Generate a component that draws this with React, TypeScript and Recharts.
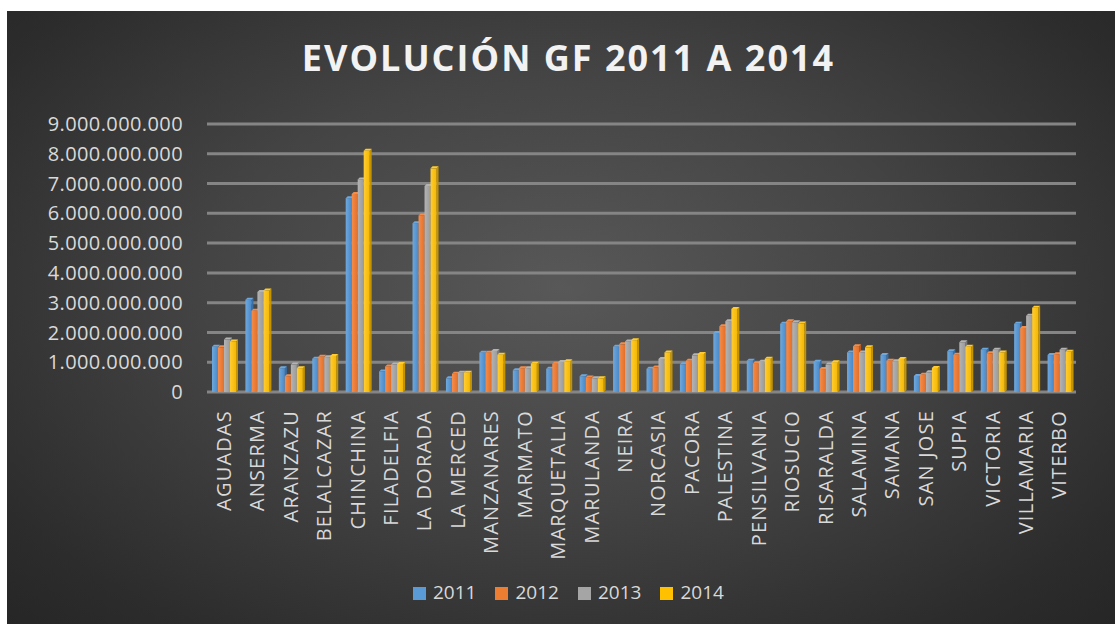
import React from 'react';
import { BarChart, Bar, XAxis, YAxis, CartesianGrid, Legend } from 'recharts';

const municipios = [
  'AGUADAS', 'ANSERMA', 'ARANZAZU', 'BELALCAZAR', 'CHINCHINA', 'FILADELFIA',
  'LA DORADA', 'LA MERCED', 'MANZANARES', 'MARMATO', 'MARQUETALIA', 'MARULANDA',
  'NEIRA', 'NORCASIA', 'PACORA', 'PALESTINA', 'PENSILVANIA', 'RIOSUCIO',
  'RISARALDA', 'SALAMINA', 'SAMANA', 'SAN JOSE', 'SUPIA', 'VICTORIA',
  'VILLAMARIA', 'VITERBO',
];

// miles de millones
const gf2011 = [1.52, 3.10, 0.80, 1.12, 6.51, 0.69, 5.67, 0.46, 1.32, 0.73, 0.78, 0.53, 1.52, 0.78, 0.93, 1.98, 1.05, 2.29, 1.02, 1.33, 1.24, 0.54, 1.37, 1.42, 2.29, 1.24];
const gf2012 = [1.50, 2.73, 0.53, 1.18, 6.65, 0.86, 5.93, 0.61, 1.32, 0.80, 0.95, 0.49, 1.60, 0.82, 1.05, 2.21, 0.96, 2.38, 0.77, 1.54, 1.05, 0.58, 1.25, 1.30, 2.15, 1.27];
const gf2013 = [1.76, 3.36, 0.92, 1.17, 7.14, 0.92, 6.92, 0.65, 1.38, 0.80, 1.01, 0.46, 1.70, 1.11, 1.23, 2.38, 1.02, 2.34, 0.92, 1.33, 1.03, 0.66, 1.67, 1.42, 2.56, 1.42];
const gf2014 = [1.70, 3.41, 0.80, 1.21, 8.10, 0.94, 7.51, 0.65, 1.25, 0.95, 1.03, 0.46, 1.74, 1.33, 1.28, 2.79, 1.12, 2.30, 1.00, 1.50, 1.11, 0.81, 1.52, 1.33, 2.83, 1.35];

const yTicks = [0, 1, 2, 3, 4, 5, 6, 7, 8, 9].map((v) => v * 1e9);

const data = municipios.map((name, i) => ({
  name,
  y2011: gf2011[i] * 1e9,
  y2012: gf2012[i] * 1e9,
  y2013: gf2013[i] * 1e9,
  y2014: gf2014[i] * 1e9,
}));

const fmt = (v: number) => String(Math.round(v)).replace(/\B(?=(\d{3})+(?!\d))/g, '.');

const makeShape = (id: string, light: string, base: string, dark: string) => (props: any) => {
  const { x, y, width, height } = props;
  if (!height || height <= 0) return <g />;
  const d = 2;
  return (
    <g>
      <defs>
        <linearGradient id={id} x1="0" y1="0" x2="1" y2="0">
          <stop offset="0%" stopColor={light} />
          <stop offset="100%" stopColor={base} />
        </linearGradient>
      </defs>
      <polygon points={`${x + width},${y} ${x + width + d},${y - d} ${x + width + d},${y + height - d} ${x + width},${y + height}`} fill={dark} />
      <polygon points={`${x},${y} ${x + d},${y - d} ${x + width + d},${y - d} ${x + width},${y}`} fill={light} />
      <rect x={x} y={y} width={width} height={height} fill={`url(#${id})`} />
    </g>
  );
};

const XTick = ({ x, y, payload }: any) => (
  <text
    x={x}
    y={y}
    transform={`rotate(-90, ${x}, ${y})`}
    textAnchor="end"
    dy="0.36em"
    fill="#d9d9d9"
    fontSize={20}
    letterSpacing={1.2}
    fontFamily="Open Sans"
  >
    {payload.value}
  </text>
);

const App = () => {
  return (
    <div
      style={{
        position: 'absolute',
        left: 7,
        top: 11,
        width: 1108,
        height: 613,
        background: 'radial-gradient(ellipse at 50% 45%, #585858 0%, #444444 45%, #2c2c2c 85%, #262626 100%)',
        fontFamily: 'Open Sans',
      }}
    >
      <BarChart
        width={1108}
        height={613}
        data={data}
        margin={{ top: 113, right: 39, left: 0, bottom: 15 }}
        barSize={6}
        barGap={0}
      >
        <CartesianGrid horizontal vertical={false} stroke="#858585" strokeWidth={3} />
        <XAxis
          dataKey="name"
          interval={0}
          height={187}
          tick={<XTick />}
          tickLine={false}
          axisLine={false}
          tickSize={0}
          tickMargin={18}
        />
        <YAxis
          width={200}
          domain={[0, 9e9]}
          ticks={yTicks}
          tickFormatter={fmt}
          tickLine={false}
          axisLine={false}
          tickSize={0}
          tickMargin={24}
          tick={{ fill: '#d9d9d9', fontSize: 20, fontFamily: 'Open Sans', letterSpacing: 0.4 }}
        />
        <Legend
          height={30}
          iconType="square"
          iconSize={13}
          align="left"
          wrapperStyle={{ left: 406, width: 360, fontSize: 19 }}
          formatter={(value: string) => (
            <span style={{ color: '#d9d9d9', fontSize: 19, marginLeft: 3, marginRight: 9 }}>{value}</span>
          )}
        />
        <Bar name="2011" dataKey="y2011" fill="#5b9bd5" isAnimationActive={false} shape={makeShape('g11', '#6fa8dc', '#4a89c8', '#3a6fa5')} />
        <Bar name="2012" dataKey="y2012" fill="#ed7d31" isAnimationActive={false} shape={makeShape('g12', '#f58d4a', '#e2702a', '#b85a1f')} />
        <Bar name="2013" dataKey="y2013" fill="#a5a5a5" isAnimationActive={false} shape={makeShape('g13', '#b4b4b4', '#9a9a9a', '#7a7a7a')} />
        <Bar name="2014" dataKey="y2014" fill="#ffc000" isAnimationActive={false} shape={makeShape('g14', '#ffcc33', '#f5b800', '#c39300')} />
      </BarChart>
      <div
        style={{
          position: 'absolute',
          left: 0,
          top: 27,
          width: 1123,
          textAlign: 'center',
          color: '#f2f2f2',
          fontSize: 36,
          fontWeight: 700,
          lineHeight: '40px',
          letterSpacing: 2,
        }}
      >
        EVOLUCIÓN GF 2011 A 2014
      </div>
    </div>
  );
};

export default App;
